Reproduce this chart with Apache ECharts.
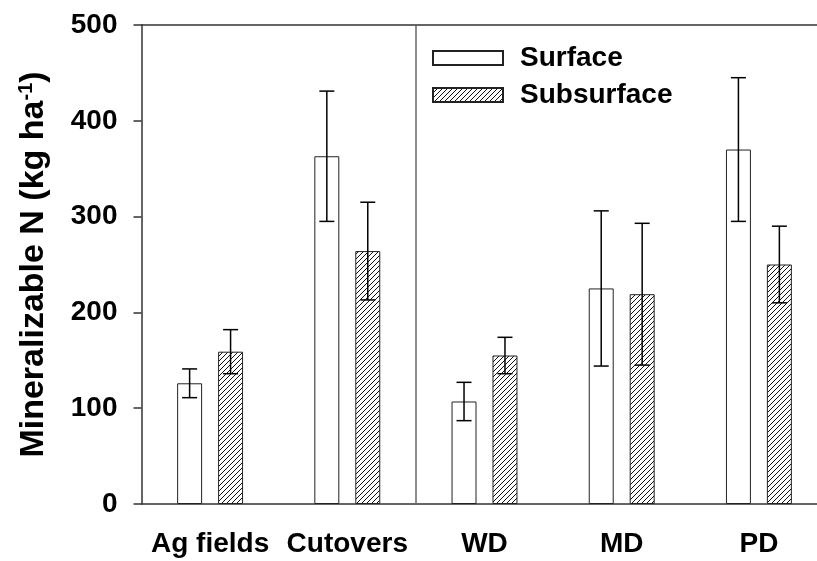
<!DOCTYPE html>
<html lang="en">
<head>
    <meta charset="UTF-8">
    <title>Mineralizable N</title>
    <script type="text/javascript" src="https://cdn.jsdelivr.net/npm/echarts@6/dist/echarts.min.js"></script>
</head>
<body>
<div id="chart"></div>
</body>
<style>
    * {
        padding: 0;
        margin: 0;
    }

    html, body {
        width: 100%;
        height: 100%;
        background-color: white;
    }

    #chart {
        width: 817px;
        height: 561px;
    }
</style>
<script>

    const categories = ['Ag fields', 'Cutovers', 'WD', 'MD', 'PD']
    const surface = [126, 363, 107, 225, 370]
    const surfaceErr = [15, 68, 20, 81, 75]
    const subsurface = [159, 264, 155, 219, 250]
    const subsurfaceErr = [23, 51, 19, 74, 40]
    const yTicks = [0, 100, 200, 300, 400, 500]
    // land use groups end after this many categories, drainage classes follow
    const dividerAfter = 2

    const font = "'Liberation Sans', Arial, sans-serif"

    // diagonal hatch tile for the subsurface bars
    const hatch = (function () {
        let c = document.createElement('canvas')
        c.width = 5
        c.height = 5
        let ctx = c.getContext('2d')
        ctx.fillStyle = '#fff'
        ctx.fillRect(0, 0, 5, 5)
        ctx.strokeStyle = '#111'
        ctx.lineWidth = 1
        ctx.beginPath()
        ctx.moveTo(-1, 6)
        ctx.lineTo(6, -1)
        ctx.moveTo(-1, 1)
        ctx.lineTo(1, -1)
        ctx.moveTo(4, 6)
        ctx.lineTo(6, 4)
        ctx.stroke()
        return c
    })()

    const barWidthRatio = 0.182
    const barGapRatio = 0.64

    const errorSeries = function (name, values, errs, side) {
        return {
            name: name + ' err',
            type: 'custom',
            z: 5,
            silent: true,
            data: values.map((v, i) => [i, v - errs[i], v + errs[i]]),
            renderItem(params, api) {
                let band = api.size([1, 0])[0]
                let bw = band * barWidthRatio
                let off = side * (bw + bw * barGapRatio) / 2
                let lo = api.coord([api.value(0), api.value(1)])
                let hi = api.coord([api.value(0), api.value(2)])
                let x = lo[0] + off
                let cap = 7.5
                let style = {stroke: '#000', lineWidth: 1.5}
                return {
                    type: 'group',
                    children: [
                        {type: 'line', shape: {x1: x, y1: lo[1], x2: x, y2: hi[1]}, style: style},
                        {type: 'line', shape: {x1: x - cap, y1: lo[1], x2: x + cap, y2: lo[1]}, style: style},
                        {type: 'line', shape: {x1: x - cap, y1: hi[1], x2: x + cap, y2: hi[1]}, style: style}
                    ]
                }
            }
        }
    }

    let chart = echarts.init(document.getElementById('chart'))
    chart.setOption({
        animation: false,
        backgroundColor: '#fff',
        grid: {left: 141.5, top: 25, width: 686, bottom: 57, outerBoundsMode: 'none'},
        legend: {
            orient: 'vertical',
            left: 432,
            top: 44,
            padding: 0,
            itemGap: 9,
            itemWidth: 70,
            itemHeight: 14,
            icon: 'rect',
            data: ['Surface', 'Subsurface'],
            textStyle: {
                fontFamily: font, fontWeight: 'bold', fontSize: 28, lineHeight: 28,
                color: '#000', padding: [0, 0, 0, 12]
            }
        },
        xAxis: [
            {
                type: 'category',
                data: categories,
                axisLine: {lineStyle: {color: '#333', width: 1.5}},
                axisTick: {alignWithLabel: true, length: 6, lineStyle: {color: '#333', width: 1.5}},
                axisLabel: {
                    interval: 0, hideOverlap: false,
                    margin: 26, color: '#000', fontFamily: font, fontWeight: 'bold', fontSize: 28
                }
            },
            {
                type: 'category',
                position: 'top',
                data: categories,
                axisLine: {lineStyle: {color: '#333', width: 1.5}},
                axisTick: {show: false},
                axisLabel: {show: false}
            },
            {
                // band index axis, only used to place the group divider
                type: 'value',
                show: false,
                min: 0,
                max: categories.length
            }
        ],
        yAxis: {
            type: 'value',
            min: yTicks[0],
            max: yTicks[yTicks.length - 1],
            interval: 100,
            name: '{a|Mineralizable N (kg ha}{s|-1}{a|)}',
            nameLocation: 'middle',
            nameGap: 91,
            nameTextStyle: {
                rich: {
                    a: {fontFamily: font, fontWeight: 'bold', fontSize: 34, color: '#000'},
                    s: {fontFamily: font, fontWeight: 'bold', fontSize: 20, color: '#000', verticalAlign: 'top'}
                }
            },
            axisLine: {show: true, lineStyle: {color: '#333', width: 1.5}},
            axisTick: {show: true, length: 8, lineStyle: {color: '#333', width: 1.5}},
            axisLabel: {margin: 24, color: '#000', fontFamily: font, fontWeight: 'bold', fontSize: 28},
            splitLine: {show: false}
        },
        series: [
            {
                name: 'Surface',
                type: 'bar',
                data: surface,
                barWidth: (barWidthRatio * 100) + '%',
                barGap: (barGapRatio * 100) + '%',
                itemStyle: {color: '#fff', borderColor: '#222', borderWidth: 1}
            },
            {
                name: 'Subsurface',
                type: 'bar',
                data: subsurface,
                barWidth: (barWidthRatio * 100) + '%',
                barGap: (barGapRatio * 100) + '%',
                itemStyle: {color: {image: hatch, repeat: 'repeat'}, borderColor: '#222', borderWidth: 1}
            },
            errorSeries('Surface', surface, surfaceErr, -1),
            errorSeries('Subsurface', subsurface, subsurfaceErr, 1),
            {
                name: 'divider',
                type: 'line',
                xAxisIndex: 2,
                data: [],
                markLine: {
                    silent: true,
                    symbol: 'none',
                    label: {show: false},
                    lineStyle: {color: '#666', type: 'solid', width: 1.5},
                    data: [{xAxis: dividerAfter}]
                }
            }
        ]
    })

</script>
</html>
